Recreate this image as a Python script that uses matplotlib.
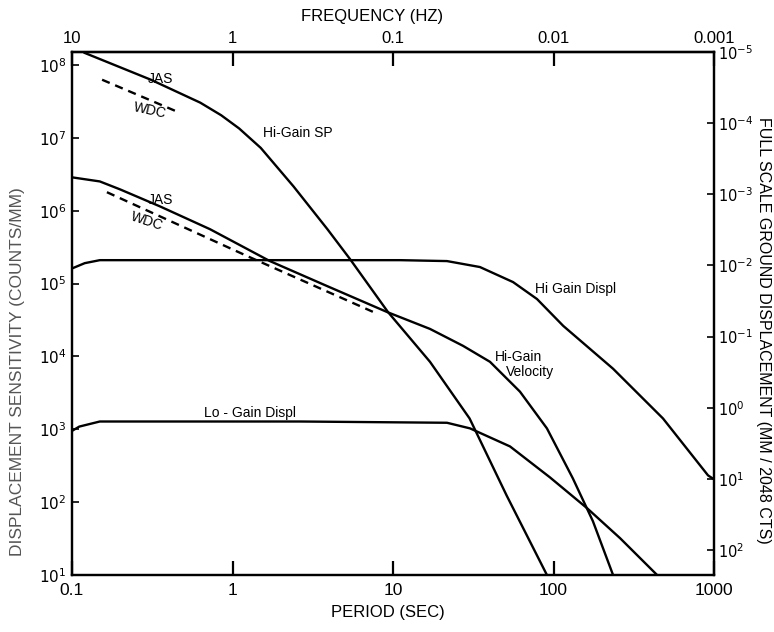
import matplotlib
matplotlib.use("Agg")
import matplotlib.pyplot as plt

plt.rcParams['font.family'] = ['Liberation Sans', 'DejaVu Sans']

# ---- data: period (s) and displacement sensitivity (counts/mm) ----
sp_period = [0.12, 0.31, 0.63, 0.85, 1.1, 1.5, 2.4, 3.9, 5.4, 9.3, 17, 30, 51, 91]
sp_sens = [1.47e8, 6.3e7, 3.05e7, 2.05e7, 1.35e7, 7.3e6, 2.16e6, 5.6e5, 2.17e5, 4.08e4, 8.45e3, 1.41e3, 124, 10]

vel_period = [0.101, 0.149, 0.199, 0.353, 0.724, 1.71, 3.88, 9.18, 17.0, 27.3, 40.2, 61.8, 91, 132, 176, 235]
vel_sens = [2.87e6, 2.53e6, 1.97e6, 1.15e6, 5.59e5, 2.04e5, 9.27e4, 4.08e4, 2.39e4, 1.40e4, 8.45e3, 3.29e3, 1.03e3, 212, 54.8, 10]

wdc_sp_period = [0.154, 0.451]
wdc_sp_sens = [6.3e7, 2.3e7]

wdc_vel_period = [0.165, 1.23, 7.5]
wdc_vel_sens = [1.8e6, 2.4e5, 4.1e4]

hid_period = [0.101, 0.12, 0.149, 0.627, 2.64, 11.1, 21.7, 34.8, 56, 78.9, 115, 235, 481, 918, 1000]
hid_sens = [1.63e5, 1.91e5, 2.10e5, 2.10e5, 2.10e5, 2.10e5, 2.04e5, 1.69e5, 1.05e5, 6.15e4, 2.63e4, 6.79e3, 1.41e3, 233, 206]

lod_period = [0.101, 0.111, 0.149, 2.64, 21.7, 30.2, 53.6, 95, 162, 260, 442]
lod_sens = [964, 1.09e3, 1.28e3, 1.28e3, 1.23e3, 1.03e3, 582, 219, 82.5, 32, 10]

period_ticks = [0.1, 1, 10, 100, 1000]
period_labels = ["0.1", "1", "10", "100", "1000"]
freq_ticks = [10, 1, 0.1, 0.01, 0.001]
freq_labels = ["10", "1", "0.1", "0.01", "0.001"]
sens_ticks = [1e1, 1e2, 1e3, 1e4, 1e5, 1e6, 1e7, 1e8]
sens_labels = [r"$10^{%d}$" % e for e in range(1, 9)]
fs_ticks = [1e-5, 1e-4, 1e-3, 1e-2, 1e-1, 1e0, 1e1, 1e2]
fs_labels = [r"$10^{%d}$" % e for e in range(-5, 3)]

W, H = 774, 632
fig = plt.figure(figsize=(W / 100, H / 100), dpi=100)
fig.patch.set_facecolor('white')

def px(x, y):
    return x / W, 1 - y / H

ax = fig.add_axes([72 / W, 1 - 575 / H, (714 - 72) / W, (575 - 52) / H])
ax.set_xscale('log')
ax.set_yscale('log')
ax.set_xlim(0.1, 1000)
ax.set_ylim(10, 10 ** 8.18)

lw = 1.7
ax.plot(sp_period, sp_sens, color='black', lw=lw)
ax.plot(vel_period, vel_sens, color='black', lw=lw)
ax.plot(hid_period, hid_sens, color='black', lw=lw)
ax.plot(lod_period, lod_sens, color='black', lw=lw)
ax.plot(wdc_sp_period, wdc_sp_sens, color='black', lw=lw, ls=(0, (3.5, 2.5)))
ax.plot(wdc_vel_period, wdc_vel_sens, color='black', lw=lw, ls=(0, (3.5, 2.5)))

for s in ax.spines.values():
    s.set_linewidth(1.6)

ax.minorticks_off()
ax.set_xticks(period_ticks)
ax.set_xticklabels(period_labels, fontsize=12.5)
ax.set_yticks(sens_ticks)
ax.set_yticklabels(sens_labels, fontsize=11)
ax.tick_params(axis='x', which='major', direction='in', length=10, width=1.6, pad=6)
ax.tick_params(axis='y', which='major', direction='in', length=5, width=1.2, pad=4)
ax.tick_params(which='minor', length=0)

top = ax.secondary_xaxis('top', functions=(lambda p: 1.0 / p, lambda f: 1.0 / f))
top.set_xticks(freq_ticks)
top.set_xticklabels(freq_labels, fontsize=12)
top.tick_params(axis='x', which='major', direction='in', length=10, width=1.6, pad=4)
top.tick_params(which='minor', length=0)
top.spines['top'].set_linewidth(1.6)

ax2 = ax.twinx()
ax2.set_yscale('log')
ax2.set_ylim(10 ** 2.35, 1e-5)
ax2.minorticks_off()
ax2.set_yticks(fs_ticks)
ax2.set_yticklabels(fs_labels, fontsize=10.5)
ax2.tick_params(axis='y', which='major', direction='in', length=5, width=1.2, pad=3)
ax2.tick_params(which='minor', length=0)
for s in ax2.spines.values():
    s.set_linewidth(1.6)

# curve annotations
ann = dict(fontsize=10, color='black', ha='center', va='center')
fig.text(*px(160, 79), "JAS", **ann)
fig.text(*px(150, 111), "WDC", rotation=-12, **ann)
fig.text(*px(298, 133), "Hi-Gain SP", **ann)
fig.text(*px(160, 200), "JAS", **ann)
fig.text(*px(147, 221), "WDC", rotation=-18, **ann)
fig.text(*px(576, 289), "Hi Gain Displ", **ann)
fig.text(*px(518, 357), "Hi-Gain", **ann)
fig.text(*px(530, 372), "Velocity", **ann)
fig.text(*px(250, 413), "Lo - Gain Displ", **ann)

# axis titles
fig.text(*px(372, 16), "FREQUENCY (HZ)", fontsize=12, ha='center', va='center')
fig.text(*px(388, 612), "PERIOD (SEC)", fontsize=12, ha='center', va='center')
fig.text(*px(764, 330), "FULL SCALE GROUND DISPLACEMENT (MM / 2048 CTS)",
         fontsize=11.5, rotation=-90, ha='center', va='center')
fig.text(*px(18, 372), "DISPLACEMENT SENSITIVITY (COUNTS/MM)",
         fontsize=12.5, rotation=90, ha='center', va='center', color='#555555')

fig.savefig("out.png", dpi=100, facecolor='white')
